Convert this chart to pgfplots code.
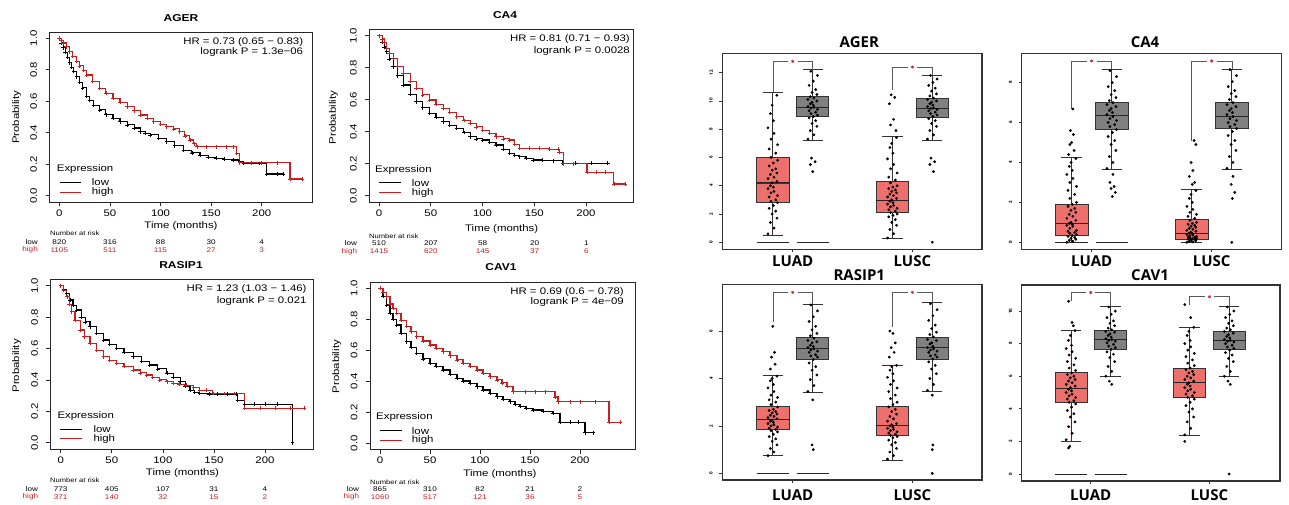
\documentclass[border=0pt]{standalone}
\usepackage{pgfplots}
\pgfplotsset{compat=1.18}
\usepgfplotslibrary{statistics}
\usepackage{fontspec}
\setmainfont{Liberation Sans}[FakeStretch=1.2]
\newfontfamily\osf{Open Sans}
\definecolor{kmr}{RGB}{200,30,30}
\definecolor{tum}{RGB}{238,112,108}
\definecolor{nor}{RGB}{128,128,128}
\newcommand\kmf{\fontsize{9.5}{11}\selectfont}
\newcommand\kmb{\bfseries\fontsize{10}{11}\selectfont}
\newcommand\rkf{\fontsize{6.8}{7}\selectfont}
\newcommand\rhf{\fontsize{6.3}{7}\selectfont}
\newcommand\bxf{\osf\bfseries\fontsize{15}{17}\selectfont}
\pgfplotsset{
 /pgf/number format/assume math mode=true,
 km/.style={scale only axis, clip=false, ymin=-0.04, ymax=1.04,
  xtick={0,50,100,150,200}, ytick={0,0.2,0.4,0.6,0.8,1},
  tick align=outside, xtick pos=bottom, ytick pos=left, major tick length=4pt,
  axis line style={line width=0.8pt, black!85}, tick style={line width=0.7pt, black!85},
  ticklabel style={font=\kmf},
  yticklabel style={rotate=90, anchor=south, /pgf/number format/fixed, /pgf/number format/fixed zerofill, /pgf/number format/precision=1},
  yticklabel shift=5pt},
 kml/.style={const plot, black, line width=1.1pt, mark=+, mark size=1.9pt, mark options={solid, line width=0.6pt}},
 kmh/.style={kml, color=kmr},
 bxa/.style={scale only axis, clip=false, xtick={1,2}, xticklabels={},
  tick align=outside, xtick pos=bottom, ytick pos=left, major tick length=3pt,
  axis line style={line width=1.1pt, black!80}, tick style={line width=0.7pt, black!80},
  yticklabel style={rotate=90, anchor=south, font=\osf\bfseries\fontsize{4.5}{5}\selectfont},
  yticklabel shift=3pt},
 dots/.style={only marks, mark=*, mark size=1.2pt, black},
 seg/.style={black!85, line width=0.9pt},
 brk/.style={black!65, line width=0.5pt},
 star/.style={only marks, mark=asterisk, mark size=1.6pt, color=kmr, mark options={line width=0.6pt}},
}
\newcommand\bx[7]{\addplot[boxplot/draw direction=y, boxplot prepared={draw position=#1, lower whisker=#2, lower quartile=#3, median=#4, upper quartile=#5, upper whisker=#6, box extend=0.27, whisker extend=0.17}, fill=#7, draw=black!80, line width=0.7pt] coordinates {};}
\begin{document}
\begin{tikzpicture}[x=1pt,y=1pt]
\fill[white] (0,0) rectangle (1289,504);
\useasboundingbox (0,0) rectangle (1289,504);

% ================= KM A: AGER
\begin{axis}[km, at={(49.6pt,302pt)}, anchor=south west, width=262.3pt, height=170pt, xmin=-9.6, xmax=249.6]
\addplot[kml] coordinates {(0,1)(2,0.97)(4,0.94)(6,0.91)(8,0.88)(10,0.845)(12,0.815)(14,0.79)(17,0.756)(20,0.72)(23,0.685)(27,0.63)(30,0.605)(34,0.575)(40,0.545)(46,0.515)(53,0.49)(60,0.47)(67,0.45)(74,0.43)(80,0.407)(85,0.395)(90,0.386)(98,0.365)(106,0.343)(114,0.318)(123,0.29)(131,0.272)(139,0.258)(147,0.245)(155,0.237)(163,0.232)(172,0.227)(178,0.216)(182,0.205)(190,0.205)(198,0.205)(205,0.138)(215,0.138)(221,0.138)};
\addplot[kmh] coordinates {(0,1)(2,0.985)(4,0.97)(7,0.947)(10,0.915)(13,0.885)(17,0.852)(20,0.825)(24,0.795)(27,0.767)(33,0.725)(40,0.682)(46,0.65)(53,0.619)(60,0.592)(67,0.566)(74,0.54)(80,0.513)(87,0.49)(93,0.47)(100,0.455)(106,0.439)(113,0.425)(119,0.407)(124,0.38)(129,0.354)(133,0.33)(136,0.311)(145,0.311)(155,0.311)(165,0.311)(172,0.311)(175,0.269)(178,0.21)(190,0.21)(200,0.21)(215,0.21)(228,0.106)(240,0.106)};
\end{axis}
% ================= KM B: CA4
\begin{axis}[km, at={(369.2pt,301.9pt)}, anchor=south west, width=264.4pt, height=172.8pt, xmin=-9.5, xmax=246]
\addplot[kml] coordinates {(0,1)(3,0.96)(5,0.93)(7.4,0.9)(10,0.855)(13.8,0.806)(18,0.75)(23.4,0.692)(30,0.635)(36,0.5875)(42,0.55)(49,0.515)(55,0.49)(62,0.4625)(68,0.44)(75,0.42)(82,0.395)(88,0.369)(94,0.355)(100,0.348)(107,0.335)(113,0.317)(120,0.29)(126,0.265)(131,0.252)(136,0.244)(142,0.232)(149,0.223)(158,0.222)(168,0.219)(177.5,0.202)(190,0.202)(205,0.202)(221,0.202)};
\addplot[kmh] coordinates {(0,1)(3,0.98)(5,0.96)(7.4,0.92)(10,0.89)(13.8,0.858)(18,0.81)(23.4,0.765)(30,0.715)(36,0.67)(42,0.63)(49,0.598)(55,0.57)(62,0.546)(68,0.52)(75,0.494)(82,0.47)(88,0.452)(94,0.43)(100,0.41)(107,0.39)(113,0.369)(120,0.355)(126,0.348)(131,0.32)(136,0.296)(145,0.296)(155,0.296)(165,0.29)(173,0.29)(174,0.27)(178,0.2)(188,0.2)(201,0.146)(210,0.146)(219,0.146)(227,0.073)(238,0.073)};
\end{axis}
% ================= KM C: RASIP1
\begin{axis}[km, at={(50.5pt,55pt)}, anchor=south west, width=262.5pt, height=169.6pt, xmin=-10, xmax=247]
\addplot[kml] coordinates {(0,1)(3,0.975)(5.9,0.95)(9,0.91)(12,0.875)(15.7,0.845)(20,0.8)(24,0.77)(28.7,0.739)(35,0.695)(41.8,0.654)(48,0.625)(54.8,0.601)(62,0.575)(71,0.548)(79,0.52)(87,0.495)(95,0.47)(104,0.442)(110,0.415)(117,0.389)(122,0.36)(126.6,0.335)(131,0.322)(136,0.314)(145,0.31)(153,0.31)(163,0.31)(172,0.31)(173,0.27)(180,0.245)(190,0.245)(200,0.245)(212,0.245)(227,0)};
\addplot[kmh] coordinates {(0,1)(3,0.97)(6,0.93)(8.5,0.88)(10.8,0.834)(14,0.78)(19,0.718)(23,0.675)(28.7,0.633)(35,0.59)(41.8,0.548)(48,0.525)(54.8,0.505)(62,0.485)(71,0.463)(78,0.445)(84,0.431)(90,0.415)(97,0.4)(104,0.388)(110,0.378)(116,0.372)(123,0.367)(130,0.35)(136,0.335)(143,0.335)(149,0.314)(160,0.314)(170,0.314)(180,0.219)(195,0.219)(210,0.219)(225,0.219)(238,0.219)};
\end{axis}
% ================= KM D: CAV1
\begin{axis}[km, at={(370pt,54.5pt)}, anchor=south west, width=265pt, height=167.4pt, xmin=-10, xmax=255]
\addplot[kml] coordinates {(0,1)(3,0.95)(6.7,0.892)(10,0.84)(13,0.8)(16.7,0.763)(21,0.71)(26.7,0.656)(31,0.62)(36.7,0.58)(43,0.545)(50,0.516)(56,0.495)(63,0.473)(70,0.445)(77,0.419)(83,0.402)(90,0.387)(97,0.365)(103,0.344)(110,0.322)(117,0.301)(123,0.285)(130,0.269)(135,0.252)(140,0.237)(146,0.225)(153,0.215)(163,0.205)(173,0.194)(180,0.135)(190,0.135)(198,0.135)(205,0.069)(213,0.069)};
\addplot[kmh] coordinates {(0,1)(3,0.975)(6.7,0.946)(10,0.9)(13,0.87)(16.7,0.839)(21,0.795)(26.7,0.753)(31,0.72)(36.7,0.688)(43,0.66)(50,0.634)(56,0.612)(63,0.591)(70,0.565)(77,0.538)(83,0.515)(90,0.495)(97,0.473)(103,0.452)(110,0.43)(117,0.409)(122,0.39)(127,0.366)(133,0.333)(145,0.333)(155,0.333)(165,0.333)(175,0.3)(178,0.269)(190,0.269)(200,0.269)(215,0.269)(229,0.135)(240,0.135)};
\end{axis}

% ---- KM texts
\node[font=\kmb] at (181,486) {AGER};
\node[font=\kmb] at (505,489) {CA4};
\node[font=\kmb] at (181,239) {RASIP1};
\node[font=\kmb] at (501,237) {CAV1};
\node[font=\kmf] at (181,277.7) {Time (months)};
\node[font=\kmf] at (501.7,275.3) {Time (months)};
\node[font=\kmf] at (182.5,31.3) {Time (months)};
\node[font=\kmf] at (500,30) {Time (months)};
\node[font=\kmf, rotate=90] at (16.7,386.7) {Probability};
\node[font=\kmf, rotate=90] at (333.3,386.5) {Probability};
\node[font=\kmf, rotate=90] at (16.7,138.2) {Probability};
\node[font=\kmf, rotate=90] at (336.7,137.3) {Probability};
% HR
\node[font=\kmf, anchor=east, inner sep=0pt] at (303.3,461.7) {HR = 0.73 (0.65 − 0.83)};
\node[font=\kmf, anchor=east, inner sep=0pt] at (303.3,451.7) {logrank P = 1.3e−06};
\node[font=\kmf, anchor=east, inner sep=0pt] at (630,465) {HR = 0.81 (0.71 − 0.93)};
\node[font=\kmf, anchor=east, inner sep=0pt] at (630,453.3) {logrank P = 0.0028};
\node[font=\kmf, anchor=east, inner sep=0pt] at (306.7,215) {HR = 1.23 (1.03 − 1.46)};
\node[font=\kmf, anchor=east, inner sep=0pt] at (306.7,203.3) {logrank P = 0.021};
\node[font=\kmf, anchor=east, inner sep=0pt] at (624,211.7) {HR = 0.69 (0.6 − 0.78)};
\node[font=\kmf, anchor=east, inner sep=0pt] at (624,201.7) {logrank P = 4e−09};
% legends
\node[font=\kmf, anchor=west, inner sep=0pt] at (56.7,334.7) {Expression};
\draw[black, line width=0.7pt] (60,321.7) -- (81,321.7);
\draw[kmr, line width=0.7pt] (60,311.7) -- (81,311.7);
\node[font=\kmf, anchor=west, inner sep=0pt] at (91.7,321.7) {low};
\node[font=\kmf, anchor=west, inner sep=0pt] at (91.7,311.7) {high};
\node[font=\kmf, anchor=west, inner sep=0pt] at (375,334) {Expression};
\draw[black, line width=0.7pt] (379.3,321.3) -- (401,321.3);
\draw[kmr, line width=0.7pt] (379.3,311.3) -- (401,311.3);
\node[font=\kmf, anchor=west, inner sep=0pt] at (411.7,321.3) {low};
\node[font=\kmf, anchor=west, inner sep=0pt] at (411.7,311.3) {high};
\node[font=\kmf, anchor=west, inner sep=0pt] at (57.3,88) {Expression};
\draw[black, line width=0.7pt] (60,74.7) -- (81.7,74.7);
\draw[kmr, line width=0.7pt] (60,65.3) -- (81.7,65.3);
\node[font=\kmf, anchor=west, inner sep=0pt] at (93.3,74.7) {low};
\node[font=\kmf, anchor=west, inner sep=0pt] at (93.3,65.3) {high};
\node[font=\kmf, anchor=west, inner sep=0pt] at (376,86.7) {Expression};
\draw[black, line width=0.7pt] (380,73.3) -- (401.7,73.3);
\draw[kmr, line width=0.7pt] (380,64) -- (401.7,64);
\node[font=\kmf, anchor=west, inner sep=0pt] at (411.7,73.3) {low};
\node[font=\kmf, anchor=west, inner sep=0pt] at (411.7,64) {high};
% risk tables
\node[font=\rhf, anchor=west, inner sep=0pt] at (50,270.3) {Number at risk};
\node[font=\rkf, anchor=east, inner sep=0pt] at (38,262) {low};
\node[font=\rkf, anchor=east, inner sep=0pt, text=kmr] at (38,254.3) {high};
\foreach \x/\a/\b in {59.3/820/1105, 109.9/316/511, 160.5/88/115, 211.1/30/27, 261.7/4/3}{
 \node[font=\rkf, inner sep=0pt] at (\x,262) {\a};
 \node[font=\rkf, inner sep=0pt, text=kmr] at (\x,254.3) {\b};}
\node[font=\rhf, anchor=west, inner sep=0pt] at (369,267.7) {Number at risk};
\node[font=\rkf, anchor=east, inner sep=0pt] at (357.3,260.7) {low};
\node[font=\rkf, anchor=east, inner sep=0pt, text=kmr] at (357.3,252.7) {high};
\foreach \x/\a/\b in {379/510/1415, 430.9/207/620, 482.7/58/145, 534.6/20/37, 586.4/1/6}{
 \node[font=\rkf, inner sep=0pt] at (\x,260.7) {\a};
 \node[font=\rkf, inner sep=0pt, text=kmr] at (\x,252.7) {\b};}
\node[font=\rhf, anchor=west, inner sep=0pt] at (50,24) {Number at risk};
\node[font=\rkf, anchor=east, inner sep=0pt] at (38.3,14.7) {low};
\node[font=\rkf, anchor=east, inner sep=0pt, text=kmr] at (38.3,7.3) {high};
\foreach \x/\a/\b in {60.7/773/371, 111.8/405/140, 162.9/107/32, 213.9/31/15, 265/4/2}{
 \node[font=\rkf, inner sep=0pt] at (\x,14.7) {\a};
 \node[font=\rkf, inner sep=0pt, text=kmr] at (\x,7.3) {\b};}
\node[font=\rhf, anchor=west, inner sep=0pt] at (370,21.3) {Number at risk};
\node[font=\rkf, anchor=east, inner sep=0pt] at (359.3,15) {low};
\node[font=\rkf, anchor=east, inner sep=0pt, text=kmr] at (359.3,7.3) {high};
\foreach \x/\a/\b in {380/865/1060, 430/310/517, 480/82/121, 530/21/36, 580/2/5}{
 \node[font=\rkf, inner sep=0pt] at (\x,15) {\a};
 \node[font=\rkf, inner sep=0pt, text=kmr] at (\x,7.3) {\b};}

% ================= BOX E: AGER
\begin{axis}[bxa, at={(722.3pt,254.7pt)}, anchor=south west, width=259.7pt, height=196pt, xmin=0.411, xmax=2.583, ymin=-0.5, ymax=13.37, ytick={0,2,4,6,8,10,12}]
\bx{0.833}{0.52}{2.8}{4.2}{6.01}{10.6}{tum}
\bx{1.167}{7.22}{8.89}{9.55}{10.3}{12.21}{nor}
\bx{1.833}{0.26}{2.1}{2.99}{4.31}{7.47}{tum}
\bx{2.167}{7.22}{8.82}{9.48}{10.19}{11.82}{nor}
\addplot[seg] coordinates {(0.698,0)(0.968,0)};
\addplot[seg] coordinates {(1.032,0)(1.302,0)};
\addplot[dots] coordinates {(0.793,0.6)(0.843,1.0)(0.813,1.4)(0.868,1.7)(0.828,2.0)(0.858,2.2)(0.803,2.4)(0.838,2.6)(0.873,2.8)(0.818,2.9)
(0.858,3.0)(0.803,3.2)(0.873,3.3)(0.818,3.5)(0.843,3.6)(0.793,3.8)(0.838,3.9)(0.813,4.0)(0.828,4.2)(0.868,4.3)
(0.793,4.5)(0.843,4.6)(0.813,4.8)(0.868,4.9)(0.828,5.1)(0.858,5.2)(0.803,5.4)(0.838,5.6)(0.873,5.8)(0.818,6.0)
(0.858,6.3)(0.803,6.6)(0.873,6.9)(0.818,7.3)(0.843,7.7)(0.793,8.1)(0.838,8.6)(0.813,9.1)(0.828,9.7)(0.868,10.4)};
\addplot[dots] coordinates {(1.127,7.3)(1.177,7.6)(1.147,7.9)(1.202,8.2)(1.162,8.4)(1.192,8.6)(1.137,8.8)(1.172,8.9)(1.207,9.0)(1.152,9.1)
(1.192,9.2)(1.137,9.3)(1.207,9.4)(1.152,9.5)(1.177,9.55)(1.127,9.6)(1.172,9.7)(1.147,9.8)(1.162,9.9)(1.202,10.0)
(1.127,10.1)(1.177,10.2)(1.147,10.3)(1.202,10.45)(1.162,10.6)(1.192,10.8)(1.137,11.1)(1.172,11.4)(1.207,11.8)(1.152,12.1)
(1.157,5.95)(1.187,5.7)(1.147,5.5)(1.167,5.0)};
\addplot[dots] coordinates {(1.793,0.3)(1.843,0.6)(1.813,0.9)(1.868,1.2)(1.828,1.4)(1.858,1.6)(1.803,1.8)(1.838,1.9)(1.873,2.0)(1.818,2.1)
(1.858,2.2)(1.803,2.3)(1.873,2.4)(1.818,2.5)(1.843,2.6)(1.793,2.7)(1.838,2.8)(1.813,2.9)(1.828,3.0)(1.868,3.1)
(1.793,3.2)(1.843,3.3)(1.813,3.4)(1.868,3.5)(1.828,3.6)(1.858,3.7)(1.803,3.8)(1.838,3.9)(1.873,4.0)(1.818,4.2)
(1.858,4.4)(1.803,4.6)(1.873,4.9)(1.818,5.2)(1.843,5.5)(1.793,5.9)(1.838,6.3)(1.813,6.7)(1.828,7.0)(1.868,7.4)
(1.823,10.43)(1.853,10.25)(1.808,9.8)(1.843,8.7)(1.818,8.3)(1.863,7.9)};
\addplot[dots] coordinates {(2.127,7.3)(2.177,7.6)(2.147,7.9)(2.202,8.2)(2.162,8.4)(2.192,8.6)(2.137,8.75)(2.172,8.9)(2.207,9.0)(2.152,9.1)
(2.192,9.2)(2.137,9.3)(2.207,9.4)(2.152,9.45)(2.177,9.5)(2.127,9.6)(2.172,9.7)(2.147,9.8)(2.162,9.9)(2.202,10.0)
(2.127,10.1)(2.177,10.2)(2.147,10.35)(2.202,10.5)(2.162,10.7)(2.192,10.9)(2.137,11.1)(2.172,11.3)(2.207,11.55)(2.152,11.8)
(2.157,5.95)(2.187,5.7)(2.147,5.5)(2.177,5.0)(2.167,0)};
\addplot[seg] coordinates {(0.698,4.2)(0.968,4.2)};
\addplot[seg] coordinates {(1.032,9.55)(1.302,9.55)};
\addplot[seg] coordinates {(1.698,2.99)(1.968,2.99)};
\addplot[seg] coordinates {(2.032,9.48)(2.302,9.48)};
\addplot[brk] coordinates {(0.833,10.6)(0.833,12.8)(0.96,12.8)};
\addplot[brk] coordinates {(1.04,12.8)(1.167,12.8)(1.167,12.21)};
\addplot[brk] coordinates {(1.833,10.8)(1.833,12.4)(1.96,12.4)};
\addplot[brk] coordinates {(2.04,12.4)(2.167,12.4)(2.167,11.82)};
\addplot[star] coordinates {(1,12.8)(2,12.4)};
\end{axis}
% ================= BOX F: CA4
\begin{axis}[bxa, at={(1021.7pt,254.7pt)}, anchor=south west, width=260pt, height=196pt, xmin=0.417, xmax=2.583, ymin=-0.35, ymax=9.47, ytick={0,2,4,6,8}]
\bx{0.833}{0}{0.35}{0.95}{1.92}{4.24}{tum}
\bx{1.167}{3.67}{5.68}{6.35}{7.02}{8.67}{nor}
\bx{1.833}{0}{0.17}{0.45}{1.17}{2.67}{tum}
\bx{2.167}{3.67}{5.71}{6.33}{7.03}{8.67}{nor}
\addplot[seg] coordinates {(0.698,0)(0.968,0)};
\addplot[seg] coordinates {(1.032,0)(1.302,0)};
\addplot[dots] coordinates {(0.793,0)(0.843,0.05)(0.813,0.1)(0.868,0.15)(0.828,0.2)(0.858,0.25)(0.803,0.3)(0.838,0.35)(0.873,0.4)(0.818,0.45)
(0.858,0.5)(0.803,0.55)(0.873,0.6)(0.818,0.7)(0.843,0.8)(0.793,0.85)(0.838,0.9)(0.813,0.95)(0.828,1.0)(0.868,1.1)
(0.793,1.2)(0.843,1.3)(0.813,1.4)(0.868,1.5)(0.828,1.6)(0.858,1.7)(0.803,1.8)(0.838,1.9)(0.873,2.0)(0.818,2.2)
(0.858,2.4)(0.803,2.6)(0.873,2.8)(0.818,3.0)(0.843,3.2)(0.793,3.4)(0.838,3.6)(0.813,3.8)(0.828,4.0)(0.868,4.2)
(0.843,6.68)(0.823,5.6)(0.848,5.4)(0.833,5.0)(0.818,4.9)(0.853,4.6)(0.808,4.4)};
\addplot[dots] coordinates {(1.127,3.7)(1.177,4.0)(1.147,4.3)(1.202,4.6)(1.162,4.9)(1.192,5.1)(1.137,5.3)(1.172,5.5)(1.207,5.65)(1.152,5.8)
(1.192,5.9)(1.137,6.0)(1.207,6.1)(1.152,6.2)(1.177,6.3)(1.127,6.4)(1.172,6.5)(1.147,6.6)(1.162,6.7)(1.202,6.8)
(1.127,6.9)(1.177,7.0)(1.147,7.1)(1.202,7.25)(1.162,7.4)(1.192,7.6)(1.137,7.8)(1.172,8.0)(1.207,8.3)(1.152,8.6)
(1.177,3.4)(1.152,3.0)(1.187,2.8)(1.162,2.7)(1.197,2.5)(1.172,2.3)};
\addplot[dots] coordinates {(1.793,0)(1.843,0.02)(1.813,0.05)(1.868,0.08)(1.828,0.1)(1.858,0.12)(1.803,0.15)(1.838,0.18)(1.873,0.2)(1.818,0.22)
(1.858,0.25)(1.803,0.28)(1.873,0.3)(1.818,0.33)(1.843,0.36)(1.793,0.4)(1.838,0.43)(1.813,0.46)(1.828,0.5)(1.868,0.55)
(1.793,0.6)(1.843,0.65)(1.813,0.7)(1.868,0.75)(1.828,0.8)(1.858,0.85)(1.803,0.9)(1.838,0.95)(1.873,1.0)(1.818,1.1)
(1.858,1.2)(1.803,1.3)(1.873,1.4)(1.818,1.5)(1.843,1.65)(1.793,1.8)(1.838,2.0)(1.813,2.2)(1.828,2.4)(1.868,2.6)
(1.853,5.1)(1.868,4.9)(1.828,4.0)(1.843,3.6)(1.813,3.3)(1.858,3.0)(1.838,2.9)};
\addplot[dots] coordinates {(2.127,3.7)(2.177,4.0)(2.147,4.3)(2.202,4.6)(2.162,4.9)(2.192,5.1)(2.137,5.35)(2.172,5.55)(2.207,5.7)(2.152,5.8)
(2.192,5.9)(2.137,6.0)(2.207,6.1)(2.152,6.2)(2.177,6.3)(2.127,6.4)(2.172,6.5)(2.147,6.6)(2.162,6.7)(2.202,6.8)
(2.127,6.9)(2.177,7.0)(2.147,7.15)(2.202,7.3)(2.162,7.45)(2.192,7.6)(2.137,7.8)(2.172,8.05)(2.207,8.35)(2.152,8.65)
(2.177,3.3)(2.162,2.9)(2.192,2.5)(2.172,2.2)(2.167,0)};
\addplot[seg] coordinates {(0.698,0.95)(0.968,0.95)};
\addplot[seg] coordinates {(1.032,6.35)(1.302,6.35)};
\addplot[seg] coordinates {(1.698,0.45)(1.968,0.45)};
\addplot[seg] coordinates {(2.032,6.33)(2.302,6.33)};
\addplot[brk] coordinates {(0.833,6.68)(0.833,9.08)(0.96,9.08)};
\addplot[brk] coordinates {(1.04,9.08)(1.167,9.08)(1.167,8.67)};
\addplot[brk] coordinates {(1.833,5.1)(1.833,9.08)(1.96,9.08)};
\addplot[brk] coordinates {(2.04,9.08)(2.167,9.08)(2.167,8.67)};
\addplot[star] coordinates {(1,9.08)(2,9.08)};
\end{axis}
% ================= BOX G: RASIP1
\begin{axis}[bxa, at={(722.3pt,24pt)}, anchor=south west, width=259.7pt, height=195.7pt, xmin=0.411, xmax=2.583, ymin=-0.28, ymax=7.97, ytick={0,2,4,6}]
\bx{0.833}{0.74}{1.85}{2.26}{2.81}{4.14}{tum}
\bx{1.167}{3.41}{4.81}{5.28}{5.73}{7.12}{nor}
\bx{1.833}{0.56}{1.61}{2.01}{2.81}{4.57}{tum}
\bx{2.167}{3.47}{4.82}{5.3}{5.75}{7.19}{nor}
\addplot[seg] coordinates {(0.698,0)(0.968,0)};
\addplot[seg] coordinates {(1.032,0)(1.302,0)};
\addplot[dots] coordinates {(0.793,0.75)(0.843,0.9)(0.813,1.05)(0.868,1.2)(0.828,1.35)(0.858,1.45)(0.803,1.55)(0.838,1.65)(0.873,1.75)(0.818,1.8)
(0.858,1.85)(0.803,1.9)(0.873,1.95)(0.818,2.0)(0.843,2.05)(0.793,2.1)(0.838,2.15)(0.813,2.2)(0.828,2.25)(0.868,2.3)
(0.793,2.35)(0.843,2.4)(0.813,2.45)(0.868,2.5)(0.828,2.55)(0.858,2.6)(0.803,2.65)(0.838,2.7)(0.873,2.8)(0.818,2.9)
(0.858,3.0)(0.803,3.1)(0.873,3.2)(0.818,3.3)(0.843,3.45)(0.793,3.6)(0.838,3.75)(0.813,3.9)(0.828,4.0)(0.868,4.1)
(0.833,6.2)(0.848,5.1)(0.823,4.9)(0.853,4.6)(0.813,4.4)};
\addplot[dots] coordinates {(1.127,3.45)(1.177,3.7)(1.147,3.95)(1.202,4.15)(1.162,4.35)(1.192,4.5)(1.137,4.65)(1.172,4.8)(1.207,4.9)(1.152,4.95)
(1.192,5.0)(1.137,5.1)(1.207,5.15)(1.152,5.2)(1.177,5.25)(1.127,5.3)(1.172,5.35)(1.147,5.4)(1.162,5.5)(1.202,5.55)
(1.127,5.6)(1.177,5.7)(1.147,5.8)(1.202,5.9)(1.162,6.05)(1.192,6.2)(1.137,6.4)(1.172,6.6)(1.207,6.85)(1.152,7.1)
(1.167,3.1)(1.162,1.2)(1.172,1.0)};
\addplot[dots] coordinates {(1.793,0.6)(1.843,0.75)(1.813,0.9)(1.868,1.05)(1.828,1.2)(1.858,1.3)(1.803,1.4)(1.838,1.5)(1.873,1.55)(1.818,1.6)
(1.858,1.65)(1.803,1.7)(1.873,1.75)(1.818,1.8)(1.843,1.85)(1.793,1.9)(1.838,1.95)(1.813,2.0)(1.828,2.05)(1.868,2.1)
(1.793,2.2)(1.843,2.3)(1.813,2.4)(1.868,2.5)(1.828,2.6)(1.858,2.7)(1.803,2.8)(1.838,2.9)(1.873,3.0)(1.818,3.15)
(1.858,3.3)(1.803,3.45)(1.873,3.6)(1.818,3.75)(1.843,3.9)(1.793,4.05)(1.838,4.2)(1.813,4.35)(1.828,4.5)(1.868,4.55)
(1.813,6.0)(1.838,5.9)(1.858,5.5)(1.823,5.3)(1.848,5.1)(1.808,4.9)};
\addplot[dots] coordinates {(2.127,3.5)(2.177,3.75)(2.147,4.0)(2.202,4.2)(2.162,4.4)(2.192,4.55)(2.137,4.7)(2.172,4.82)(2.207,4.9)(2.152,4.95)
(2.192,5.0)(2.137,5.1)(2.207,5.15)(2.152,5.2)(2.177,5.25)(2.127,5.3)(2.172,5.35)(2.147,5.45)(2.162,5.5)(2.202,5.6)
(2.127,5.65)(2.177,5.75)(2.147,5.85)(2.202,5.95)(2.162,6.1)(2.192,6.25)(2.137,6.45)(2.172,6.65)(2.207,6.9)(2.152,7.15)
(2.167,3.3)(2.172,1.2)(2.167,1.0)(2.167,0)};
\addplot[seg] coordinates {(0.698,2.26)(0.968,2.26)};
\addplot[seg] coordinates {(1.032,5.28)(1.302,5.28)};
\addplot[seg] coordinates {(1.698,2.01)(1.968,2.01)};
\addplot[seg] coordinates {(2.032,5.3)(2.302,5.3)};
\addplot[brk] coordinates {(0.833,6.39)(0.833,7.63)(0.96,7.63)};
\addplot[brk] coordinates {(1.04,7.63)(1.167,7.63)(1.167,7.12)};
\addplot[brk] coordinates {(1.833,6.18)(1.833,7.63)(1.96,7.63)};
\addplot[brk] coordinates {(2.04,7.63)(2.167,7.63)(2.167,7.19)};
\addplot[star] coordinates {(1,7.63)(2,7.63)};
\end{axis}
% ================= BOX H: CAV1
\begin{axis}[bxa, at={(1021.7pt,23pt)}, anchor=south west, width=258.3pt, height=196pt, xmin=0.418, xmax=2.596, ymin=-0.43, ymax=11.6, ytick={0,2,4,6,8,10}]
\bx{0.833}{2.02}{4.4}{5.26}{6.21}{8.83}{tum}
\bx{1.167}{5.97}{7.67}{8.28}{8.79}{10.27}{nor}
\bx{1.833}{2.39}{4.72}{5.62}{6.48}{9.0}{tum}
\bx{2.167}{5.97}{7.65}{8.22}{8.77}{10.27}{nor}
\addplot[seg] coordinates {(0.698,0)(0.968,0)};
\addplot[seg] coordinates {(1.032,0)(1.302,0)};
\addplot[dots] coordinates {(0.793,2.1)(0.843,2.5)(0.813,2.9)(0.868,3.2)(0.828,3.5)(0.858,3.7)(0.803,3.9)(0.838,4.1)(0.873,4.3)(0.818,4.4)
(0.858,4.5)(0.803,4.6)(0.873,4.7)(0.818,4.8)(0.843,4.9)(0.793,5.0)(0.838,5.1)(0.813,5.2)(0.828,5.3)(0.868,5.4)
(0.793,5.5)(0.843,5.6)(0.813,5.7)(0.868,5.8)(0.828,5.9)(0.858,6.0)(0.803,6.1)(0.838,6.2)(0.873,6.35)(0.818,6.5)
(0.858,6.7)(0.803,6.9)(0.873,7.1)(0.818,7.3)(0.843,7.5)(0.793,7.7)(0.838,7.9)(0.813,8.2)(0.828,8.5)(0.868,8.8)
(0.813,10.6)(0.843,9.3)(0.853,9.1)(0.823,1.7)(0.813,1.6)};
\addplot[dots] coordinates {(1.127,6.0)(1.177,6.3)(1.147,6.6)(1.202,6.9)(1.162,7.15)(1.192,7.35)(1.137,7.5)(1.172,7.65)(1.207,7.75)(1.152,7.85)
(1.192,7.95)(1.137,8.05)(1.207,8.15)(1.152,8.2)(1.177,8.25)(1.127,8.3)(1.172,8.4)(1.147,8.5)(1.162,8.6)(1.202,8.7)
(1.127,8.75)(1.177,8.85)(1.147,8.95)(1.202,9.1)(1.162,9.25)(1.192,9.4)(1.137,9.6)(1.172,9.8)(1.207,10.0)(1.152,10.25)
(1.157,5.7)(1.177,5.5)};
\addplot[dots] coordinates {(1.793,2.4)(1.843,2.8)(1.813,3.2)(1.868,3.5)(1.828,3.8)(1.858,4.0)(1.803,4.2)(1.838,4.4)(1.873,4.6)(1.818,4.7)
(1.858,4.8)(1.803,4.9)(1.873,5.0)(1.818,5.1)(1.843,5.2)(1.793,5.3)(1.838,5.4)(1.813,5.5)(1.828,5.6)(1.868,5.7)
(1.793,5.8)(1.843,5.9)(1.813,6.0)(1.868,6.1)(1.828,6.2)(1.858,6.3)(1.803,6.4)(1.838,6.5)(1.873,6.65)(1.818,6.8)
(1.858,7.0)(1.803,7.2)(1.873,7.4)(1.818,7.6)(1.843,7.8)(1.793,8.0)(1.838,8.2)(1.813,8.5)(1.828,8.75)(1.868,9.0)
(1.793,10.4)(1.843,9.6)(1.793,2.0)};
\addplot[dots] coordinates {(2.127,6.0)(2.177,6.3)(2.147,6.6)(2.202,6.9)(2.162,7.1)(2.192,7.3)(2.137,7.45)(2.172,7.6)(2.207,7.7)(2.152,7.8)
(2.192,7.9)(2.137,8.0)(2.207,8.1)(2.152,8.15)(2.177,8.2)(2.127,8.25)(2.172,8.35)(2.147,8.45)(2.162,8.55)(2.202,8.65)
(2.127,8.75)(2.177,8.85)(2.147,8.95)(2.202,9.1)(2.162,9.25)(2.192,9.4)(2.137,9.6)(2.172,9.8)(2.207,10.0)(2.152,10.25)
(2.157,5.7)(2.177,5.5)(2.167,0)};
\addplot[seg] coordinates {(0.698,5.26)(0.968,5.26)};
\addplot[seg] coordinates {(1.032,8.28)(1.302,8.28)};
\addplot[seg] coordinates {(1.698,5.62)(1.968,5.62)};
\addplot[seg] coordinates {(2.032,8.22)(2.302,8.22)};
\addplot[brk] coordinates {(0.833,10.6)(0.833,11.14)(0.96,11.14)};
\addplot[brk] coordinates {(1.04,11.14)(1.167,11.14)(1.167,10.27)};
\addplot[brk] coordinates {(1.833,10.4)(1.833,10.88)(1.96,10.88)};
\addplot[brk] coordinates {(2.04,10.88)(2.167,10.88)(2.167,10.27)};
\addplot[star] coordinates {(1,11.14)(2,10.88)};
\end{axis}

% ---- box texts
\node[font=\bxf] at (859.3,462.3) {AGER};
\node[font=\bxf] at (1145,462.3) {CA4};
\node[font=\bxf] at (859.3,229) {RASIP1};
\node[font=\bxf] at (1150,228.7) {CAV1};
\node[font=\bxf] at (792.7,243) {LUAD};
\node[font=\bxf] at (912.3,243) {LUSC};
\node[font=\bxf] at (1091.7,243) {LUAD};
\node[font=\bxf] at (1211.7,243) {LUSC};
\node[font=\bxf] at (792.7,9.3) {LUAD};
\node[font=\bxf] at (912.3,9.3) {LUSC};
\node[font=\bxf] at (1090.7,9.3) {LUAD};
\node[font=\bxf] at (1209.3,9.3) {LUSC};
\end{tikzpicture}
\end{document}
